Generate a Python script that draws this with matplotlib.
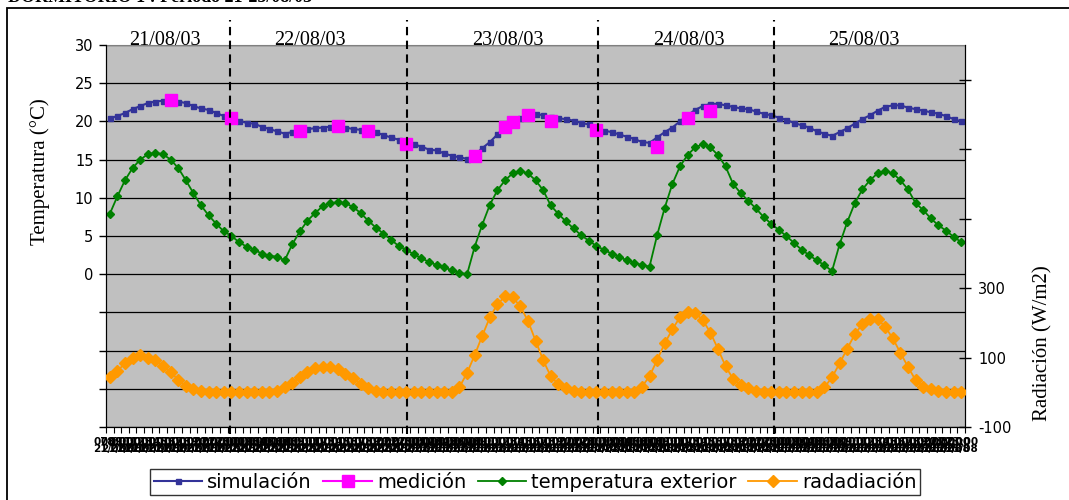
import numpy as np
import matplotlib.pyplot as plt
import matplotlib.transforms as mtransforms
from matplotlib.lines import Line2D
from matplotlib.patches import Rectangle

plt.rcParams['font.family'] = 'DejaVu Sans'

# simulated indoor temperature (one value per hour, 21/08 07:00 -> 25/08 23:00)
simulacion = [20.4, 20.7, 21.1, 21.6, 22.0, 22.4, 22.6, 22.7, 22.8, 22.6,
              22.4, 22.0, 21.7, 21.5, 21.1, 20.7, 20.4, 20.1, 19.8, 19.7,
              19.3, 19.0, 18.7, 18.4, 18.6, 18.8, 19.0, 19.1, 19.2, 19.3,
              19.4, 19.2, 19.0, 18.9, 18.7, 18.6, 18.2, 17.9, 17.6, 17.2,
              17.0, 16.7, 16.3, 16.2, 15.8, 15.5, 15.3, 15.1, 15.6, 16.5,
              17.3, 18.3, 19.3, 19.9, 20.4, 20.8, 21.0, 20.8, 20.6, 20.4,
              20.3, 20.1, 19.8, 19.6, 19.2, 18.8, 18.6, 18.3, 18.0, 17.7,
              17.3, 17.2, 17.9, 18.6, 19.2, 20.0, 20.8, 21.5, 22.0, 22.3,
              22.3, 22.1, 21.9, 21.7, 21.6, 21.3, 21.0, 20.8, 20.5, 20.2,
              19.8, 19.5, 19.2, 18.7, 18.4, 18.1, 18.6, 19.1, 19.7, 20.3,
              20.8, 21.4, 21.9, 22.1, 22.1, 21.8, 21.6, 21.4, 21.2, 21.0,
              20.7, 20.3, 20.0]

# measured temperature (only some hours)
medicion_idx = [8, 16, 25, 30, 34, 39, 48, 52, 53, 55, 58, 64, 72, 76, 79]
medicion_val = [22.8, 20.4, 18.8, 19.4, 18.8, 17.1, 15.5, 19.3, 19.9, 20.8,
                20.1, 18.9, 16.7, 20.4, 21.3]

exterior = [7.9, 10.2, 12.3, 13.9, 15.0, 15.7, 15.9, 15.7, 15.0, 13.9,
            12.3, 10.6, 9.0, 7.7, 6.6, 5.6, 5.0, 4.2, 3.6, 3.2,
            2.7, 2.4, 2.3, 1.8, 3.9, 5.6, 7.0, 8.0, 8.9, 9.3,
            9.4, 9.3, 8.8, 8.0, 7.0, 6.1, 5.3, 4.5, 3.7, 3.2,
            2.6, 2.1, 1.6, 1.2, 0.9, 0.5, 0.2, 0.0, 3.6, 6.5,
            9.1, 11.0, 12.3, 13.2, 13.5, 13.2, 12.3, 11.0, 9.0, 7.9,
            6.9, 6.0, 5.1, 4.4, 3.7, 3.2, 2.7, 2.3, 1.8, 1.5,
            1.2, 1.0, 5.1, 8.7, 11.8, 14.1, 15.6, 16.6, 17.0, 16.6,
            15.6, 14.1, 11.8, 10.6, 9.6, 8.6, 7.5, 6.6, 5.8, 5.0,
            4.1, 3.2, 2.5, 1.8, 1.2, 0.4, 3.9, 6.8, 9.3, 11.1,
            12.3, 13.2, 13.5, 13.2, 12.3, 11.1, 9.3, 8.4, 7.3, 6.4,
            5.7, 4.9, 4.2]

radiacion = [43, 62, 83, 98, 107, 100, 93, 75, 59, 35,
             18, 8, 4, 1, 0, 0, 0, 0, 0, 0,
             0, 0, 4, 16, 27, 43, 59, 69, 74, 74,
             67, 54, 40, 24, 11, 4, 1, 0, 0, 0,
             0, 0, 0, 0, 0, 0, 15, 56, 107, 163,
             216, 254, 276, 274, 247, 206, 149, 93, 46, 23,
             11, 4, 1, 0, 0, 0, 0, 0, 0, 0,
             16, 46, 93, 141, 181, 216, 232, 228, 208, 172,
             125, 75, 38, 20, 11, 4, 1, 0, 0, 0,
             0, 0, 0, 0, 14, 43, 83, 125, 167, 196,
             210, 210, 189, 155, 114, 73, 35, 16, 9, 4,
             1, 0, 0]

dias = ['21/08/03', '22/08/03', '23/08/03', '24/08/03', '25/08/03']
dias_pos = [7.3, 26.3, 52.4, 76.2, 99.2]
separadores = [15.8, 39.1, 64.2, 87.4]
dia_corto = ['21/08', '22/08', '23/08', '24/08', '25/08']

n = len(simulacion)
x = np.arange(n)
# hour + date per point; far too dense to read, they pile up into a dark band
etiquetas = []
for i in range(n):
    h = 7 + i
    etiquetas.append('%02d:00\n%s' % (h % 24, dia_corto[min(h // 24, 4)]))

medicion = np.full(n, np.nan)
medicion[medicion_idx] = medicion_val

fig = plt.figure(figsize=(10.69, 5.0), dpi=100)
ax = fig.add_axes([106 / 1069, 1 - 427 / 500, 859 / 1069, 382 / 500])
ax.set_facecolor('#c0c0c0')

ax.plot(x, simulacion, color='#333399', lw=1.5, marker='s', ms=3.6,
        label='simulación', zorder=3)
ax.plot(x, medicion, color='#ff00ff', lw=1.5, marker='s', ms=8.5,
        ls='-', label='medición', zorder=4)
ax.plot(x, exterior, color='#008000', lw=1.3, marker='D', ms=4.2,
        label='temperatura exterior', zorder=3)

ax.set_xlim(-0.5, n - 0.5)
ax.set_ylim(-20, 30)
ax.set_yticks(np.arange(-20, 31, 5))
ax.set_yticklabels(['' if v < 0 else str(v) for v in range(-20, 31, 5)],
                   fontsize=10.5)
ax.tick_params(axis='y', direction='out', length=5, width=1, pad=4)
ax.yaxis.grid(True, color='black', lw=0.9)
ax.set_axisbelow(True)

ax.set_xticks(x)
ax.set_xticklabels(etiquetas, fontsize=7.5, fontweight='heavy',
                   linespacing=0.62)
ax.tick_params(axis='x', which='major', length=0, pad=7)
ax.set_xticks(np.arange(-0.5, n, 1), minor=True)
ax.tick_params(axis='x', which='minor', direction='out', length=4, width=0.8)

for s in ['left', 'bottom']:
    ax.spines[s].set_color('black')
ax.spines['top'].set_color('#808080')

trans = mtransforms.blended_transform_factory(ax.transData, ax.transAxes)
for p in separadores:
    ax.add_line(Line2D([p, p], [-0.018, 1.066], transform=trans, color='black',
                       lw=1.5, ls=(0, (4, 2.6)), clip_on=False, zorder=5))
for d, p in zip(dias, dias_pos):
    ax.text(p, 1.0, d, transform=trans, ha='center', va='baseline',
            family='Liberation Serif', fontsize=14.5)

ax2 = ax.twinx()
ax2.plot(x, radiacion, color='#ff9900', lw=1.3, marker='D', ms=5.8,
         label='radadiación', zorder=3)
ax2.set_ylim(-100, 1000)
ax2.set_yticks([-100, 100, 300, 500, 700, 900])
ax2.set_yticklabels(['-100', '100', '300', '', '', ''], fontsize=10.5)
ax2.tick_params(axis='y', direction='inout', length=9, width=1, pad=5)
ax2.spines['right'].set_color('black')
ax2.spines['top'].set_visible(False)

fig.text(40 / 1069, 1 - 172 / 500, 'Temperatura (°C)', rotation=90,
         ha='center', va='center', family='Liberation Serif', fontsize=15)
fig.text(1043 / 1069, 1 - 343 / 500, 'Radiación (W/m2)', rotation=90,
         ha='center', va='center', family='Liberation Serif', fontsize=15)

h1, l1 = ax.get_legend_handles_labels()
h2, l2 = ax2.get_legend_handles_labels()
leg = fig.legend(h1 + h2, l1 + l2, loc='center', ncol=4,
                 bbox_to_anchor=(535 / 1069, 1 - 482 / 500), fontsize=14,
                 frameon=True, fancybox=False, edgecolor='black',
                 handlelength=2.5, handletextpad=0.25, columnspacing=0.6,
                 borderpad=0.2, borderaxespad=0)
leg.get_frame().set_linewidth(1.0)

# outer frame and the cut title above it
fig.add_artist(Rectangle((7 / 1069, -0.02), 1.05, 1 - 8 / 500 + 0.02,
                         transform=fig.transFigure, fill=False,
                         edgecolor='black', lw=1.3))
fig.text(8 / 1069, 1 - 1.5 / 500, 'DORMITORIO 1 : Período 21-25/08/03',
         ha='left', va='baseline', family='Liberation Serif',
         fontweight='bold', fontsize=13)

fig.savefig('out.png', dpi=100)
